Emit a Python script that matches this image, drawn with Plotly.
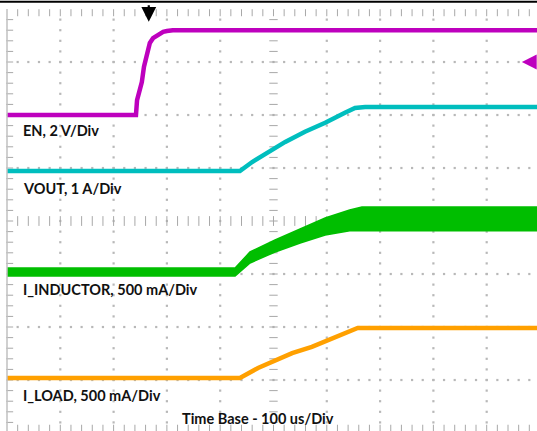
import numpy as np
import plotly.graph_objects as go

# ---------------- data (read from the scope capture) ----------------
# time in microseconds (100 us/div), values in physical units
en_t = [0, 242, 244, 250, 253, 257, 263, 268, 274, 283, 293, 300, 311, 1000]
en_v = [0, 0, 0.56, 0.94, 1.24, 1.82, 2.34, 2.72, 2.90, 3.02, 3.14, 3.17, 3.20, 3.20]   # V

vout_t = [0, 437, 460, 490, 522, 559, 597, 634, 653, 672, 1000]
vout_v = [0, 0, 0.17, 0.36, 0.55, 0.74, 0.91, 1.10, 1.19, 1.21, 1.21]

ind_t = [0, 428, 456, 503, 550, 597, 643, 666, 1000]
ind_hi = [38, 38, 189, 302, 406, 510, 585, 613, 613]     # mA, upper envelope
ind_lo = [-38, -38, 85, 189, 274, 349, 390, 390, 390]    # mA, lower envelope

load_t = [0, 437, 471, 503, 535, 572, 610, 640, 658, 709, 1000]
load_v = [0, 0, 94, 170, 235, 293, 377, 434, 472, 472, 472]  # mA

labels = ["EN, 2 V/Div", "VOUT, 1 A/Div", "I_INDUCTOR, 500 mA/Div",
          "I_LOAD, 500 mA/Div", "Time Base - 100 us/Div"]

# ---------------- channel settings (scale per div, offset in div) ----------------
EN_SCALE, EN_OFF = 2.0, 2.0
VO_SCALE, VO_OFF = 1.0, 0.943
IND_SCALE, IND_OFF = 500.0, -0.962
LD_SCALE, LD_OFF = 500.0, -2.962

def to_div(vals, scale, off):
    return [v / scale + off for v in vals]

C_EN = "#BE00BE"
C_VO = "#00BEBE"
C_IND = "#00BE00"
C_LD = "#FFA000"

fig = go.Figure()

# ---------------- graticule ----------------
gx, gy = [], []
for k in range(1, 10):
    if k == 5:
        continue
    for j in range(-19, 20):
        gx.append(k * 100); gy.append(j * 0.2)
for m in range(-3, 4):
    if m == 0:
        continue
    for i in range(1, 50):
        gx.append(i * 20); gy.append(m)
fig.add_trace(go.Scatter(x=gx, y=gy, mode="markers", hoverinfo="skip",
                         marker=dict(symbol="square", size=2.2, color="#b8b8b8", line=dict(width=0))))

# center axes ticks
cx_t = [i * 20 for i in range(1, 50)]
fig.add_trace(go.Scatter(x=cx_t, y=[0] * len(cx_t), mode="markers", hoverinfo="skip",
                         marker=dict(symbol="line-ns", size=7, line=dict(width=1, color="#a8a8a8"))))
cy_v = [j * 0.2 for j in range(-19, 20)]
fig.add_trace(go.Scatter(x=[500] * len(cy_v), y=cy_v, mode="markers", hoverinfo="skip",
                         marker=dict(symbol="line-ew", size=6, line=dict(width=1, color="#a8a8a8"))))
# edge ticks (top, bottom, left)
fig.add_trace(go.Scatter(x=cx_t + cx_t, y=[3.93] * len(cx_t) + [-3.91] * len(cx_t), mode="markers",
                         hoverinfo="skip",
                         marker=dict(symbol="line-ns", size=5, line=dict(width=1, color="#a8a8a8"))))
fig.add_trace(go.Scatter(x=[5] * len(cy_v), y=cy_v, mode="markers", hoverinfo="skip",
                         marker=dict(symbol="line-ew", size=5, line=dict(width=1, color="#a8a8a8"))))

# ---------------- traces ----------------
fig.add_trace(go.Scatter(x=en_t, y=to_div(en_v, EN_SCALE, EN_OFF), mode="lines",
                         line=dict(color=C_EN, width=4.5), hoverinfo="skip"))
fig.add_trace(go.Scatter(x=vout_t, y=to_div(vout_v, VO_SCALE, VO_OFF), mode="lines",
                         line=dict(color=C_VO, width=4.5), hoverinfo="skip"))
fig.add_trace(go.Scatter(x=ind_t, y=to_div(ind_lo, IND_SCALE, IND_OFF), mode="lines",
                         line=dict(color=C_IND, width=1.5), hoverinfo="skip"))
fig.add_trace(go.Scatter(x=ind_t, y=to_div(ind_hi, IND_SCALE, IND_OFF), mode="lines",
                         line=dict(color=C_IND, width=1.5), fill="tonexty", fillcolor=C_IND,
                         hoverinfo="skip"))
fig.add_trace(go.Scatter(x=load_t, y=to_div(load_v, LD_SCALE, LD_OFF), mode="lines",
                         line=dict(color=C_LD, width=4.5), hoverinfo="skip"))

# ---------------- labels ----------------
lab_pos = [(26, 1.71), (26, 0.62), (26, -1.30), (26, -3.29), (325, -3.72)]
for txt, (x, y) in zip(labels, lab_pos):
    fig.add_annotation(x=x, y=y, text=txt, showarrow=False, xanchor="left", yanchor="middle",
                       font=dict(family="Lato", size=14.5, color="#111111", weight="bold"))

# trigger markers
fig.add_annotation(x=266, y=3.76, ax=0, ay=-18, showarrow=True, arrowhead=2, arrowsize=1.35,
                   arrowwidth=2.2, arrowcolor="black", text="")
fig.add_annotation(x=966, y=3.0, ax=18, ay=0, showarrow=True, arrowhead=2, arrowsize=1.35,
                   arrowwidth=2.2, arrowcolor=C_EN, text="")

# frame lines
fig.add_shape(type="line", xref="paper", yref="paper", x0=0, x1=1, y0=1 - 1.8 / 431, y1=1 - 1.8 / 431,
              line=dict(color="black", width=2))
fig.add_shape(type="line", xref="x", yref="paper", x0=0, x1=0, y0=0, y1=1 - 9 / 431,
              line=dict(color="#c0c0c0", width=1.5))

fig.update_layout(
    width=537, height=431, margin=dict(l=0, r=0, t=0, b=0),
    paper_bgcolor="white", plot_bgcolor="white", showlegend=False,
    xaxis=dict(range=[-13.13, 994.4], visible=False, fixedrange=True),
    yaxis=dict(range=[-3.962, 4.170], visible=False, fixedrange=True),
)

fig.write_html("out.html", config={"displayModeBar": False},
               post_script="document.body.style.margin='0';document.body.style.overflow='hidden';")
